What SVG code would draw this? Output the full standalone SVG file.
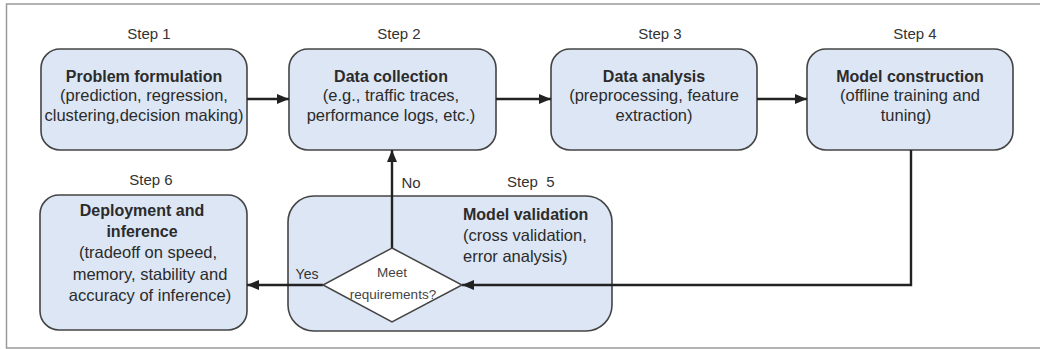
<svg xmlns="http://www.w3.org/2000/svg" width="1040" height="349" viewBox="0 0 1040 349">
<style>
.box{fill:#dce6f5;stroke:#444;stroke-width:1.6}
.t{font-family:"Liberation Sans",Arial,sans-serif;fill:#2b2b2b;text-anchor:middle}
.b{font-size:16px;font-weight:bold}
.r{font-size:16.5px}
.s{font-size:15px;fill:#333}
.c{fill:none;stroke:#222;stroke-width:2.4}
</style>
<defs>
<marker id="ah" markerUnits="userSpaceOnUse" markerWidth="12" markerHeight="10" refX="12" refY="5" orient="auto">
<path d="M0,0 L12,5 L0,10 z" fill="#222"/>
</marker>
</defs>
<rect width="1040" height="349" fill="#fff"/>
<path d="M1040,4 H6.5 V348 H1040" fill="none" stroke="#9a9a9a" stroke-width="1.5"/>

<g id="step1">
<text class="t s" x="149" y="39">Step 1</text>
<rect class="box" x="41" y="49" width="206" height="101" rx="19"/>
<text class="t b" x="144" y="82">Problem formulation</text>
<text class="t r" x="144" y="101">(prediction, regression,</text>
<text class="t r" x="144" y="121">clustering,decision making)</text>
</g>

<g id="step2">
<text class="t s" x="399" y="39">Step 2</text>
<rect class="box" x="289" y="49" width="207" height="101" rx="19"/>
<text class="t b" x="391" y="82">Data collection</text>
<text class="t r" x="391" y="101">(e.g., traffic traces,</text>
<text class="t r" x="391" y="121">performance logs, etc.)</text>
</g>

<g id="step3">
<text class="t s" x="660" y="39">Step 3</text>
<rect class="box" x="551" y="49" width="206" height="101" rx="19"/>
<text class="t b" x="654" y="82">Data analysis</text>
<text class="t r" x="654" y="101">(preprocessing, feature</text>
<text class="t r" x="654" y="121">extraction)</text>
</g>

<g id="step4">
<text class="t s" x="915" y="39">Step 4</text>
<rect class="box" x="807" y="49" width="206" height="101" rx="19"/>
<text class="t b" x="910" y="82">Model construction</text>
<text class="t r" x="910" y="101">(offline training and</text>
<text class="t r" x="906" y="121">tuning)</text>
</g>

<g id="step6">
<text class="t s" x="151" y="185">Step 6</text>
<rect class="box" x="40" y="195" width="207" height="135" rx="19"/>
<text class="t b" x="142" y="216">Deployment and</text>
<text class="t b" x="142" y="237">inference</text>
<text class="t r" x="148" y="258">(tradeoff on speed,</text>
<text class="t r" x="150" y="280">memory, stability and</text>
<text class="t r" x="150" y="301">accuracy of inference)</text>
</g>

<g id="step5">
<text class="t s" x="507" y="187" style="text-anchor:start" xml:space="preserve">Step  5</text>
<rect class="box" x="288" y="196" width="324" height="135" rx="26"/>
<text class="t b" x="463" y="220" style="text-anchor:start">Model validation</text>
<text class="t r" x="463" y="241" style="text-anchor:start">(cross validation,</text>
<text class="t r" x="463" y="262" style="text-anchor:start">error analysis)</text>
</g>

<g id="connectors">
<path class="c" d="M247,99 H289" marker-end="url(#ah)"/>
<path class="c" d="M496,99 H551" marker-end="url(#ah)"/>
<path class="c" d="M757,99 H807" marker-end="url(#ah)"/>
<path class="c" d="M911,150 V285 H462" marker-end="url(#ah)"/>
<path class="c" d="M392,248 V150" marker-end="url(#ah)"/>
<path class="c" d="M323,285 H247" marker-end="url(#ah)"/>
<text class="t s" x="411" y="188">No</text>
<text class="t s" x="307" y="279" style="font-size:14px">Yes</text>
</g>

<g id="decision">
<polygon points="392,248 462,285 392,322 323,285" fill="#fff" stroke="#444" stroke-width="1.5"/>
<text class="t" x="392" y="277" style="font-size:13.5px;fill:#444">Meet</text>
<text class="t" x="393" y="299" style="font-size:13.5px;fill:#444">requirements?</text>
</g>
</svg>
